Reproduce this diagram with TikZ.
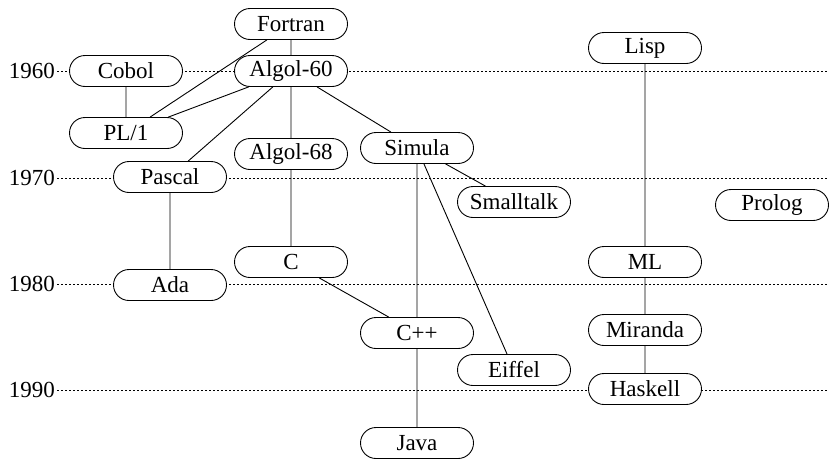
\documentclass[tikz,border=0pt]{standalone}
\usepackage{fontspec}
\setmainfont{Liberation Serif}
\usetikzlibrary{shapes.misc, backgrounds}

\begin{document}
\begin{tikzpicture}[
    x=1pt, y=-1pt,
    font=\fontsize{23}{27}\selectfont,
    % Estilo para los lenguajes
    lang/.style={
        draw,
        rounded rectangle,
        fill=white,
        minimum width=113pt,
        minimum height=31pt,
        inner sep=0pt,
        line width=0.9pt
    },
    % Estilo para los años
    year/.style={
        anchor=east,
        inner sep=2pt
    },
    % Estilo para las líneas
    link/.style={
        line width=0.9pt
    },
    timeline/.style={
        line width=0.9pt,
        dash pattern=on 2pt off 2pt
    }
]

    \useasboundingbox (0,0) rectangle (829,458);

    % --- 1. Lenguajes ---
    \node[lang] (fortran)   at (291,24)  {Fortran};
    \node[lang] (cobol)     at (126,71)  {Cobol};
    \node[lang] (algolsixty) at (291,71) {Algol-60};
    \node[lang] (lisp)      at (645,48)  {Lisp};
    \node[lang] (plone)     at (126,133) {PL/1};
    \node[lang] (simula)    at (417,148) {Simula};
    \node[lang] (algolsixtyeight) at (291,154) {Algol-68};
    \node[lang] (pascal)    at (170,177) {Pascal};
    \node[lang] (smalltalk) at (514,202) {Smalltalk};
    \node[lang] (prolog)    at (772,205) {Prolog};
    \node[lang] (c)         at (291,262) {C};
    \node[lang] (ml)        at (645,262) {ML};
    \node[lang] (ada)       at (170,285) {Ada};
    \node[lang] (cpp)       at (417,333) {C++};
    \node[lang] (miranda)   at (645,330) {Miranda};
    \node[lang] (eiffel)    at (514,370) {Eiffel};
    \node[lang] (haskell)   at (645,389) {Haskell};
    \node[lang] (java)      at (417,443) {Java};

    % --- 2. Años ---
    \node[year] (y1960) at (57,71)  {1960};
    \node[year] (y1970) at (57,178) {1970};
    \node[year] (y1980) at (57,284) {1980};
    \node[year] (y1990) at (57,390) {1990};

    \coordinate (e1960) at (829,71);
    \coordinate (e1970) at (829,178);
    \coordinate (e1980) at (829,284);
    \coordinate (e1990) at (829,390);

    % --- 3. Líneas (detrás de los nodos) ---
    \begin{scope}[on background layer]
        \draw[timeline] (y1960) -- (e1960);
        \draw[timeline] (y1970) -- (e1970);
        \draw[timeline] (y1980) -- (e1980);
        \draw[timeline] (y1990) -- (e1990);

        \draw[link] (fortran) -- (algolsixty);
        \draw[link] (fortran) -- (plone);
        \draw[link] (cobol) -- (plone);
        \draw[link] (algolsixty) -- (plone);
        \draw[link] (algolsixty) -- (pascal);
        \draw[link] (algolsixty) -- (algolsixtyeight);
        \draw[link] (algolsixty) -- (simula);
        \draw[link] (algolsixtyeight) -- (c);
        \draw[link] (pascal) -- (ada);
        \draw[link] (simula) -- (smalltalk);
        \draw[link] (simula) -- (cpp);
        \draw[link] (simula) -- (eiffel);
        \draw[link] (c) -- (cpp);
        \draw[link] (cpp) -- (java);
        \draw[link] (lisp) -- (ml);
        \draw[link] (ml) -- (miranda);
        \draw[link] (miranda) -- (haskell);
    \end{scope}

\end{tikzpicture}
\end{document}
